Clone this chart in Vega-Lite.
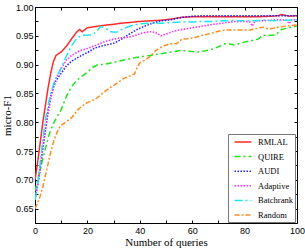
{
  "$schema": "https://vega.github.io/schema/vega-lite/v6.json",
  "width": 262,
  "height": 216,
  "autosize": {"type": "none"},
  "padding": {"left": 35, "top": 7, "right": 8, "bottom": 26},
  "background": "white",
  "config": {
    "view": {"stroke": "#000", "strokeWidth": 1},
    "axis": {"grid": false, "domain": false, "tickColor": "#000", "tickSize": -3, "labelFont": "Liberation Sans", "labelFontSize": 9, "labelColor": "#000", "titleFont": "Liberation Serif", "titleFontSize": 11, "titleFontWeight": "normal", "titleColor": "#000"}
  },
  "data": {"values": [
    {"m":"RMLAL","q":0,"f":0.700},{"m":"RMLAL","q":1,"f":0.730},{"m":"RMLAL","q":2,"f":0.765},{"m":"RMLAL","q":3,"f":0.800},{"m":"RMLAL","q":4,"f":0.830},{"m":"RMLAL","q":5,"f":0.860},{"m":"RMLAL","q":6,"f":0.885},{"m":"RMLAL","q":7,"f":0.905},{"m":"RMLAL","q":8,"f":0.916},{"m":"RMLAL","q":10,"f":0.922},{"m":"RMLAL","q":12,"f":0.932},{"m":"RMLAL","q":14,"f":0.945},{"m":"RMLAL","q":16,"f":0.957},{"m":"RMLAL","q":17,"f":0.961},{"m":"RMLAL","q":18,"f":0.957},{"m":"RMLAL","q":20,"f":0.964},{"m":"RMLAL","q":23,"f":0.966},{"m":"RMLAL","q":26,"f":0.968},{"m":"RMLAL","q":30,"f":0.970},{"m":"RMLAL","q":33,"f":0.972},{"m":"RMLAL","q":36,"f":0.973},{"m":"RMLAL","q":40,"f":0.975},{"m":"RMLAL","q":44,"f":0.976},{"m":"RMLAL","q":48,"f":0.977},{"m":"RMLAL","q":52,"f":0.979},{"m":"RMLAL","q":56,"f":0.982},{"m":"RMLAL","q":60,"f":0.983},{"m":"RMLAL","q":65,"f":0.983},{"m":"RMLAL","q":70,"f":0.983},{"m":"RMLAL","q":75,"f":0.983},{"m":"RMLAL","q":80,"f":0.983},{"m":"RMLAL","q":85,"f":0.983},{"m":"RMLAL","q":90,"f":0.984},{"m":"RMLAL","q":93,"f":0.985},{"m":"RMLAL","q":94,"f":0.987},{"m":"RMLAL","q":95,"f":0.986},{"m":"RMLAL","q":97,"f":0.984},{"m":"RMLAL","q":100,"f":0.985},
    {"m":"QUIRE","q":0,"f":0.680},{"m":"QUIRE","q":1,"f":0.700},{"m":"QUIRE","q":2,"f":0.718},{"m":"QUIRE","q":3,"f":0.737},{"m":"QUIRE","q":4,"f":0.755},{"m":"QUIRE","q":5,"f":0.772},{"m":"QUIRE","q":6,"f":0.787},{"m":"QUIRE","q":7,"f":0.797},{"m":"QUIRE","q":8,"f":0.806},{"m":"QUIRE","q":9,"f":0.814},{"m":"QUIRE","q":10,"f":0.822},{"m":"QUIRE","q":12,"f":0.845},{"m":"QUIRE","q":14,"f":0.862},{"m":"QUIRE","q":16,"f":0.873},{"m":"QUIRE","q":18,"f":0.880},{"m":"QUIRE","q":20,"f":0.887},{"m":"QUIRE","q":22,"f":0.895},{"m":"QUIRE","q":24,"f":0.900},{"m":"QUIRE","q":26,"f":0.900},{"m":"QUIRE","q":28,"f":0.902},{"m":"QUIRE","q":31,"f":0.905},{"m":"QUIRE","q":34,"f":0.908},{"m":"QUIRE","q":37,"f":0.911},{"m":"QUIRE","q":41,"f":0.914},{"m":"QUIRE","q":44,"f":0.916},{"m":"QUIRE","q":48,"f":0.919},{"m":"QUIRE","q":52,"f":0.922},{"m":"QUIRE","q":56,"f":0.925},{"m":"QUIRE","q":59,"f":0.923},{"m":"QUIRE","q":62,"f":0.922},{"m":"QUIRE","q":65,"f":0.924},{"m":"QUIRE","q":68,"f":0.927},{"m":"QUIRE","q":71,"f":0.933},{"m":"QUIRE","q":73,"f":0.937},{"m":"QUIRE","q":76,"f":0.934},{"m":"QUIRE","q":79,"f":0.938},{"m":"QUIRE","q":82,"f":0.941},{"m":"QUIRE","q":85,"f":0.944},{"m":"QUIRE","q":87,"f":0.951},{"m":"QUIRE","q":91,"f":0.951},{"m":"QUIRE","q":92,"f":0.952},{"m":"QUIRE","q":94,"f":0.961},{"m":"QUIRE","q":96,"f":0.963},{"m":"QUIRE","q":98,"f":0.965},{"m":"QUIRE","q":100,"f":0.967},
    {"m":"AUDI","q":0,"f":0.665},{"m":"AUDI","q":1,"f":0.690},{"m":"AUDI","q":2,"f":0.720},{"m":"AUDI","q":3,"f":0.755},{"m":"AUDI","q":4,"f":0.785},{"m":"AUDI","q":5,"f":0.820},{"m":"AUDI","q":6,"f":0.845},{"m":"AUDI","q":7,"f":0.860},{"m":"AUDI","q":8,"f":0.872},{"m":"AUDI","q":10,"f":0.885},{"m":"AUDI","q":12,"f":0.898},{"m":"AUDI","q":14,"f":0.906},{"m":"AUDI","q":17,"f":0.914},{"m":"AUDI","q":20,"f":0.921},{"m":"AUDI","q":23,"f":0.929},{"m":"AUDI","q":26,"f":0.933},{"m":"AUDI","q":30,"f":0.937},{"m":"AUDI","q":33,"f":0.944},{"m":"AUDI","q":36,"f":0.953},{"m":"AUDI","q":39,"f":0.961},{"m":"AUDI","q":42,"f":0.967},{"m":"AUDI","q":45,"f":0.972},{"m":"AUDI","q":48,"f":0.976},{"m":"AUDI","q":52,"f":0.978},{"m":"AUDI","q":56,"f":0.982},{"m":"AUDI","q":60,"f":0.984},{"m":"AUDI","q":65,"f":0.985},{"m":"AUDI","q":70,"f":0.985},{"m":"AUDI","q":75,"f":0.985},{"m":"AUDI","q":80,"f":0.985},{"m":"AUDI","q":85,"f":0.985},{"m":"AUDI","q":90,"f":0.985},{"m":"AUDI","q":95,"f":0.985},{"m":"AUDI","q":100,"f":0.985},
    {"m":"Adaptive","q":0,"f":0.670},{"m":"Adaptive","q":1,"f":0.690},{"m":"Adaptive","q":2,"f":0.720},{"m":"Adaptive","q":3,"f":0.757},{"m":"Adaptive","q":4,"f":0.790},{"m":"Adaptive","q":5,"f":0.815},{"m":"Adaptive","q":6,"f":0.840},{"m":"Adaptive","q":7,"f":0.860},{"m":"Adaptive","q":8,"f":0.876},{"m":"Adaptive","q":10,"f":0.893},{"m":"Adaptive","q":12,"f":0.908},{"m":"Adaptive","q":14,"f":0.916},{"m":"Adaptive","q":17,"f":0.924},{"m":"Adaptive","q":20,"f":0.928},{"m":"Adaptive","q":23,"f":0.933},{"m":"Adaptive","q":26,"f":0.939},{"m":"Adaptive","q":29,"f":0.943},{"m":"Adaptive","q":32,"f":0.946},{"m":"Adaptive","q":35,"f":0.947},{"m":"Adaptive","q":38,"f":0.950},{"m":"Adaptive","q":41,"f":0.955},{"m":"Adaptive","q":44,"f":0.957},{"m":"Adaptive","q":46,"f":0.956},{"m":"Adaptive","q":48,"f":0.950},{"m":"Adaptive","q":50,"f":0.953},{"m":"Adaptive","q":53,"f":0.958},{"m":"Adaptive","q":56,"f":0.961},{"m":"Adaptive","q":60,"f":0.964},{"m":"Adaptive","q":64,"f":0.967},{"m":"Adaptive","q":68,"f":0.970},{"m":"Adaptive","q":72,"f":0.972},{"m":"Adaptive","q":76,"f":0.975},{"m":"Adaptive","q":80,"f":0.975},{"m":"Adaptive","q":82,"f":0.974},{"m":"Adaptive","q":83,"f":0.967},{"m":"Adaptive","q":84,"f":0.976},{"m":"Adaptive","q":87,"f":0.976},{"m":"Adaptive","q":90,"f":0.977},{"m":"Adaptive","q":94,"f":0.978},{"m":"Adaptive","q":96,"f":0.977},{"m":"Adaptive","q":97,"f":0.971},{"m":"Adaptive","q":98,"f":0.978},{"m":"Adaptive","q":100,"f":0.978},
    {"m":"Batchrank","q":0,"f":0.665},{"m":"Batchrank","q":1,"f":0.690},{"m":"Batchrank","q":2,"f":0.730},{"m":"Batchrank","q":3,"f":0.770},{"m":"Batchrank","q":4,"f":0.805},{"m":"Batchrank","q":5,"f":0.830},{"m":"Batchrank","q":6,"f":0.850},{"m":"Batchrank","q":7,"f":0.865},{"m":"Batchrank","q":8,"f":0.876},{"m":"Batchrank","q":10,"f":0.895},{"m":"Batchrank","q":12,"f":0.915},{"m":"Batchrank","q":14,"f":0.933},{"m":"Batchrank","q":16,"f":0.946},{"m":"Batchrank","q":18,"f":0.951},{"m":"Batchrank","q":20,"f":0.951},{"m":"Batchrank","q":22,"f":0.952},{"m":"Batchrank","q":24,"f":0.960},{"m":"Batchrank","q":25,"f":0.966},{"m":"Batchrank","q":27,"f":0.963},{"m":"Batchrank","q":29,"f":0.957},{"m":"Batchrank","q":31,"f":0.956},{"m":"Batchrank","q":34,"f":0.963},{"m":"Batchrank","q":37,"f":0.968},{"m":"Batchrank","q":40,"f":0.971},{"m":"Batchrank","q":44,"f":0.972},{"m":"Batchrank","q":48,"f":0.972},{"m":"Batchrank","q":52,"f":0.973},{"m":"Batchrank","q":56,"f":0.974},{"m":"Batchrank","q":60,"f":0.974},{"m":"Batchrank","q":64,"f":0.975},{"m":"Batchrank","q":68,"f":0.975},{"m":"Batchrank","q":72,"f":0.976},{"m":"Batchrank","q":76,"f":0.976},{"m":"Batchrank","q":80,"f":0.976},{"m":"Batchrank","q":84,"f":0.976},{"m":"Batchrank","q":88,"f":0.977},{"m":"Batchrank","q":92,"f":0.976},{"m":"Batchrank","q":96,"f":0.977},{"m":"Batchrank","q":100,"f":0.978},
    {"m":"Random","q":0,"f":0.650},{"m":"Random","q":1,"f":0.660},{"m":"Random","q":2,"f":0.672},{"m":"Random","q":3,"f":0.688},{"m":"Random","q":4,"f":0.708},{"m":"Random","q":5,"f":0.728},{"m":"Random","q":6,"f":0.748},{"m":"Random","q":7,"f":0.765},{"m":"Random","q":8,"f":0.778},{"m":"Random","q":9,"f":0.788},{"m":"Random","q":10,"f":0.795},{"m":"Random","q":12,"f":0.801},{"m":"Random","q":14,"f":0.808},{"m":"Random","q":16,"f":0.820},{"m":"Random","q":18,"f":0.828},{"m":"Random","q":20,"f":0.834},{"m":"Random","q":22,"f":0.838},{"m":"Random","q":24,"f":0.843},{"m":"Random","q":26,"f":0.851},{"m":"Random","q":28,"f":0.858},{"m":"Random","q":30,"f":0.864},{"m":"Random","q":32,"f":0.870},{"m":"Random","q":34,"f":0.876},{"m":"Random","q":36,"f":0.880},{"m":"Random","q":38,"f":0.884},{"m":"Random","q":39,"f":0.895},{"m":"Random","q":40,"f":0.903},{"m":"Random","q":42,"f":0.908},{"m":"Random","q":44,"f":0.914},{"m":"Random","q":46,"f":0.924},{"m":"Random","q":48,"f":0.930},{"m":"Random","q":50,"f":0.934},{"m":"Random","q":52,"f":0.936},{"m":"Random","q":54,"f":0.936},{"m":"Random","q":56,"f":0.944},{"m":"Random","q":58,"f":0.945},{"m":"Random","q":61,"f":0.947},{"m":"Random","q":64,"f":0.951},{"m":"Random","q":67,"f":0.954},{"m":"Random","q":70,"f":0.958},{"m":"Random","q":73,"f":0.960},{"m":"Random","q":76,"f":0.960},{"m":"Random","q":79,"f":0.960},{"m":"Random","q":82,"f":0.960},{"m":"Random","q":85,"f":0.963},{"m":"Random","q":87,"f":0.965},{"m":"Random","q":89,"f":0.962},{"m":"Random","q":91,"f":0.963},{"m":"Random","q":93,"f":0.965},{"m":"Random","q":96,"f":0.967},{"m":"Random","q":100,"f":0.969}
  ]},
  "layer": [
    {
      "mark": {"type": "line", "strokeWidth": 1.5, "clip": true},
      "encoding": {
        "x": {"field": "q", "type": "quantitative", "scale": {"domain": [0, 100], "nice": false},
          "axis": {"values": [0,10,20,30,40,50,60,70,80,90,100], "labelExpr": "datum.value % 20 == 0 ? datum.label : ''", "title": "Number of queries", "labelPadding": 6, "titlePadding": 1, "labelFlush": false}},
        "y": {"field": "f", "type": "quantitative", "scale": {"domain": [0.625, 1.0], "nice": false, "zero": false},
          "axis": {"values": [0.625,0.65,0.675,0.7,0.725,0.75,0.775,0.8,0.825,0.85,0.875,0.9,0.925,0.95,0.975,1.0], "labelExpr": "abs(datum.value*20 - round(datum.value*20)) < 0.001 ? format(datum.value, '.2f') : ''", "title": "micro-F1", "labelPadding": 5, "titlePadding": 3, "labelFlush": false}},
        "color": {"field": "m", "type": "nominal",
          "scale": {"domain": ["RMLAL","QUIRE","AUDI","Adaptive","Batchrank","Random"], "range": ["#ff2a2a","#1ee61e","#1e1eff","#ff28ff","#1ee6f0","#ff8c1e"]},
          "legend": {"orient": "none", "legendX": 193, "legendY": 127, "title": null, "symbolType": "M-1.7,0H1.7", "symbolSize": 100, "symbolStrokeWidth": 1.5, "labelFont": "Liberation Serif", "labelFontSize": 8.5, "labelColor": "#000", "fillColor": "white", "strokeColor": "#777", "padding": 2, "rowPadding": 3.6, "labelOffset": 9, "symbolOffset": 7}},
        "strokeDash": {"field": "m", "type": "nominal",
          "scale": {"domain": ["RMLAL","QUIRE","AUDI","Adaptive","Batchrank","Random"], "range": [[1,0],[6,3,2,3],[1.5,1.5],[1.5,1.5],[8,3,2,3],[5,2,2,2]]},
          "legend": null}
      }
    },
    {
      "mark": {"type": "line", "opacity": 0},
      "encoding": {
        "x": {"field": "q", "type": "quantitative", "axis": {"orient": "top", "values": [0,10,20,30,40,50,60,70,80,90,100], "labels": false, "title": null}},
        "y": {"field": "f", "type": "quantitative", "axis": {"orient": "right", "values": [0.625,0.65,0.675,0.7,0.725,0.75,0.775,0.8,0.825,0.85,0.875,0.9,0.925,0.95,0.975,1.0], "labels": false, "title": null}},
        "detail": {"field": "m"}
      }
    }
  ],
  "resolve": {"axis": {"x": "independent", "y": "independent"}}
}
